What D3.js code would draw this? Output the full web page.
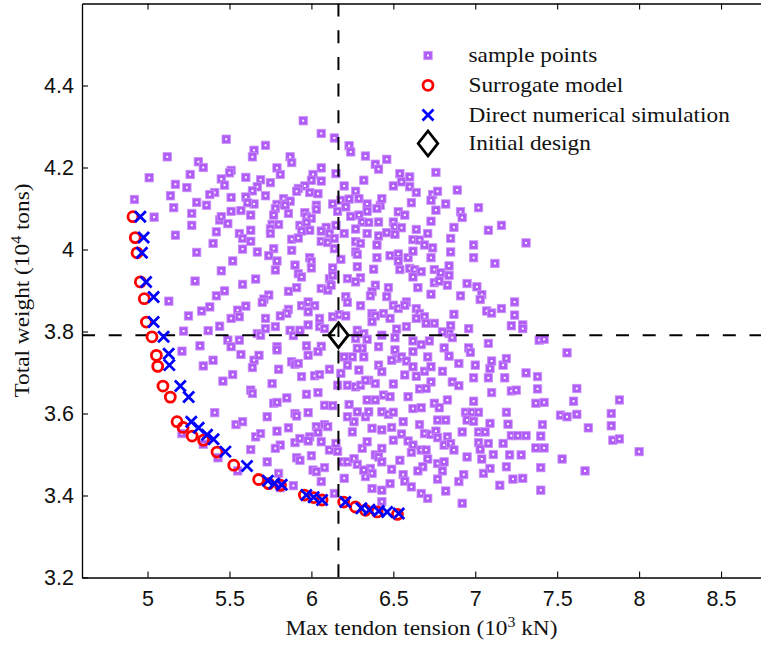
<!DOCTYPE html>
<html>
<head>
<meta charset="utf-8">
<script src="https://cdn.jsdelivr.net/npm/d3@7"></script>
<style>
    body { margin: 0; background: #fff; }
</style>
</head>
<body>
<div id="chart"></div>
<script>
// sample points [tension (10^3 kN), weight (10^4 tons)]
const samplePoints = [
    [5.95,4.314],[6.06,4.283],[6.14,4.272],[5.48,4.269],[5.72,4.254],[5.65,4.242],[5.64,4.226],[5.12,4.226],[6.23,4.253],[6.24,4.238],
    [6.33,4.228],[5.87,4.226],[5.88,4.212],[5.31,4.214],[5.34,4.200],[6.39,4.208],[6.41,4.196],[5.79,4.199],[5.81,4.183],[6.06,4.199],
    [5.51,4.193],[5.50,4.187],[5.26,4.183],[6.01,4.183],[6.00,4.169],[6.06,4.167],[6.15,4.185],[5.01,4.175],[5.60,4.176],[5.45,4.172],
    [5.47,4.157],[5.69,4.170],[5.75,4.163],[5.17,4.159],[5.24,4.151],[5.67,4.153],[5.64,4.143],[5.96,4.155],[5.92,4.149],[5.91,4.142],
    [5.99,4.139],[6.04,4.136],[6.20,4.155],[6.27,4.142],[6.32,4.169],[5.41,4.139],[5.38,4.134],[5.14,4.131],[5.51,4.127],[5.60,4.128],
    [5.72,4.131],[5.83,4.124],[5.87,4.118],[5.79,4.110],[5.84,4.108],[4.92,4.122],[5.30,4.115],[5.36,4.108],[5.65,4.111],[5.61,4.114],
    [6.13,4.111],[6.18,4.120],[6.23,4.123],[6.29,4.124],[6.34,4.111],[6.42,4.108],[6.43,4.124],[6.03,4.108],[6.03,4.098],[5.16,4.102],
    [5.51,4.093],[5.57,4.095],[5.78,4.100],[5.77,4.084],[5.86,4.088],[5.96,4.090],[5.97,4.080],[6.00,4.076],[6.16,4.093],[6.21,4.104],
    [6.40,4.100],[6.34,4.093],[6.29,4.084],[5.04,4.079],[5.27,4.088],[5.44,4.072],[5.45,4.080],[5.63,4.084],[5.49,4.063],[5.76,4.061],
    [5.80,4.061],[5.93,4.059],[5.97,4.066],[5.99,4.047],[5.94,4.045],[6.09,4.054],[6.15,4.059],[6.24,4.081],[6.31,4.067],[6.35,4.066],
    [6.41,4.067],[5.27,4.059],[5.75,4.050],[5.75,4.039],[5.42,4.043],[5.56,4.039],[5.63,4.047],[5.58,4.027],[5.63,4.020],[6.06,4.045],
    [6.11,4.039],[6.20,4.039],[6.27,4.050],[6.34,4.039],[6.41,4.033],[5.17,4.035],[5.88,4.025],[5.92,4.028],[5.88,3.998],[6.06,4.020],
    [6.10,4.017],[6.14,4.027],[6.27,4.019],[6.30,4.015],[6.40,4.011],[5.40,4.015],[5.30,3.993],[5.58,4.001],[5.67,3.994],[5.77,4.002],
    [5.74,3.985],[5.79,3.972],[5.78,3.950],[5.99,3.980],[6.00,3.970],[6.00,3.955],[6.14,4.002],[6.18,3.976],[6.13,3.955],[6.27,3.994],
    [6.28,3.988],[6.40,3.980],[5.52,3.972],[5.45,3.948],[5.90,3.962],[5.92,3.941],[5.94,3.933],[6.28,3.958],[6.38,3.952],[6.22,3.929],
    [6.30,3.931],[6.27,3.921],[6.11,3.929],[6.13,3.937],[5.29,3.923],[5.58,3.915],[5.66,3.928],[5.86,3.898],[5.91,3.907],[6.06,3.905],
    [6.10,3.901],[6.12,3.913],[6.21,3.885],[6.22,3.871],[6.39,3.913],[6.37,3.897],[6.36,3.887],[5.47,3.899],[5.42,3.887],[5.74,3.889],
    [5.71,3.879],[5.70,3.871],[5.13,3.874],[5.38,3.860],[5.33,3.850],[5.25,3.838],[5.60,3.862],[5.55,3.852],[5.56,3.836],[5.94,3.863],
    [5.98,3.872],[6.02,3.863],[5.98,3.848],[5.86,3.854],[5.85,3.844],[5.81,3.838],[6.05,3.832],[6.13,3.836],[6.17,3.841],[6.21,3.838],
    [6.30,3.863],[6.37,3.844],[6.39,3.838],[6.44,3.844],[5.72,3.832],[5.51,3.832],
    [6.46,4.220],[6.54,4.185],[6.55,4.165],[6.60,4.177],[6.50,4.155],[6.60,4.153],[6.64,4.139],[6.76,4.188],[6.89,4.145],[6.74,4.134],
    [6.73,4.120],[6.77,4.142],[6.61,4.114],[6.82,4.111],[7.02,4.102],[6.53,4.092],[6.57,4.084],[6.76,4.096],[6.91,4.092],[6.92,4.078],
    [6.73,4.069],[6.50,4.067],[6.51,4.055],[6.55,4.053],[6.46,4.041],[6.51,4.037],[6.64,4.049],[6.71,4.039],[6.62,4.024],[6.66,4.023],
    [6.69,4.011],[6.74,4.004],[6.85,4.027],[6.87,4.054],[7.08,4.047],[7.16,4.059],[7.31,4.016],[6.99,4.011],[6.85,3.994],[6.99,3.980],
    [7.12,3.966],[6.48,3.985],[6.53,3.989],[6.53,3.972],[6.59,3.980],[6.62,3.996],[6.73,3.980],[6.54,3.951],[6.60,3.954],[6.63,3.951],
    [6.67,3.946],[6.62,3.933],[6.75,3.951],[6.79,3.943],[6.84,3.960],[6.84,3.937],[6.75,3.919],[6.78,3.923],[6.83,3.913],[6.95,3.917],
    [7.01,3.909],[7.04,3.890],[7.03,3.878],[6.47,3.907],[6.46,3.885],[6.65,3.907],[6.73,3.891],[6.91,3.887],[6.58,3.872],[6.50,3.864],
    [6.53,3.856],[6.57,3.864],[6.64,3.856],[6.66,3.844],[6.69,3.836],[6.87,3.842],[7.07,3.850],[7.10,3.845],[7.16,3.856],[7.24,3.872],
    [7.24,3.840],[6.48,3.832],[6.64,3.832],
    [5.22,3.801],[5.37,3.802],[5.44,3.813],[5.49,3.779],[5.51,3.763],[5.56,3.779],[5.67,3.795],[5.69,3.791],[5.72,3.807],[5.78,3.812],
    [5.87,3.803],[5.89,3.790],[5.93,3.803],[5.98,3.816],[6.05,3.812],[6.08,3.807],[5.97,3.765],[6.06,3.764],[5.98,3.742],[6.04,3.751],
    [6.28,3.803],[6.27,3.783],[6.32,3.795],[6.37,3.824],[6.43,3.791],[6.34,3.781],[6.41,3.763],[6.31,3.759],[6.28,3.759],[6.32,3.738],
    [6.25,3.738],[6.20,3.738],[6.22,3.718],[6.29,3.706],[6.35,3.681],[6.39,3.673],[6.41,3.718],[6.43,3.702],[6.44,3.645],[6.34,3.633],
    [6.39,3.633],[6.43,3.604],[5.32,3.765],[5.40,3.730],[5.34,3.716],[5.21,3.752],[5.57,3.744],[5.65,3.730],[5.68,3.742],[5.64,3.712],
    [5.79,3.763],[5.79,3.755],[5.80,3.708],[5.88,3.726],[5.90,3.720],[5.92,3.722],[5.94,3.690],[6.02,3.692],[6.05,3.695],[6.11,3.708],
    [6.18,3.698],[5.46,3.679],[5.52,3.695],[5.76,3.673],[5.63,3.657],[5.64,3.649],[5.85,3.638],[5.77,3.625],[5.79,3.627],[5.97,3.647],
    [6.04,3.651],[6.08,3.620],[6.13,3.619],[6.22,3.669],[6.27,3.665],[6.30,3.669],[6.33,3.681],[5.41,3.602],[5.54,3.573],[5.58,3.580],
    [5.73,3.592],[5.90,3.600],[5.91,3.594],[5.98,3.602],[5.79,3.557],[5.86,3.565],[6.03,3.568],[6.08,3.573],[6.10,3.568],[6.04,3.554],
    [5.66,3.543],[5.69,3.551],[5.81,3.523],[5.78,3.515],[5.90,3.529],[5.93,3.539],[5.99,3.543],[5.98,3.533],[6.06,3.531],[6.11,3.511],
    [6.16,3.508],[5.63,3.512],[5.73,3.482],[5.91,3.492],[5.93,3.486],[6.00,3.497],[6.15,3.527],[6.19,3.482],[6.22,3.482],[6.26,3.490],
    [6.28,3.476],[6.31,3.515],[6.34,3.531],[6.39,3.499],[6.43,3.515],[6.41,3.494],[6.43,3.482],[6.36,3.466],[6.37,3.454],[6.33,3.446],
    [6.32,3.462],[6.01,3.462],[6.03,3.458],[6.08,3.468],[6.06,3.434],[5.80,3.454],[5.89,3.424],[6.14,3.405],[6.20,3.442],[6.37,3.417],
    [6.43,3.413],[6.25,3.555],[6.26,3.580],[6.22,3.592],[6.33,3.592],[6.37,3.564],[6.43,3.560],[6.16,3.669],[6.23,3.622],[6.28,3.604],
    [6.35,3.604],[5.21,3.551],[5.34,3.525],[5.43,3.492],[5.55,3.460],[5.81,3.419],
    [6.58,3.812],[6.75,3.820],[6.70,3.820],[6.85,3.814],[6.84,3.795],[6.80,3.799],[6.86,3.785],[6.96,3.807],[6.52,3.806],[6.51,3.785],
    [6.62,3.777],[6.67,3.768],[6.72,3.777],[6.81,3.760],[6.84,3.740],[6.90,3.722],[6.96,3.760],[6.97,3.749],[7.08,3.771],[7.22,3.814],
    [7.29,3.816],[7.29,3.807],[7.39,3.779],[7.42,3.781],[7.56,3.748],[6.62,3.751],[6.51,3.755],[6.52,3.734],[6.49,3.730],[6.55,3.738],
    [6.58,3.728],[6.71,3.738],[6.62,3.714],[6.69,3.703],[6.73,3.714],[6.80,3.703],[6.86,3.677],[6.90,3.668],[6.73,3.677],[6.66,3.660],
    [6.70,3.661],[6.57,3.694],[6.64,3.691],[6.50,3.672],[7.00,3.718],[6.99,3.687],[7.08,3.687],[7.09,3.710],[7.10,3.728],[7.17,3.718],
    [7.19,3.734],[7.18,3.687],[7.31,3.699],[7.38,3.690],[7.10,3.651],[7.22,3.655],[7.25,3.657],[7.38,3.660],[7.62,3.661],[7.60,3.630],
    [7.88,3.633],[7.37,3.625],[7.42,3.627],[7.52,3.596],[7.56,3.592],[7.62,3.598],[7.83,3.600],[6.48,3.641],[6.59,3.641],[6.99,3.630],
    [6.75,3.625],[6.78,3.614],[6.83,3.633],[6.62,3.612],[6.67,3.614],[6.94,3.603],[6.98,3.603],[7.02,3.603],[6.95,3.584],[6.99,3.581],
    [7.19,3.603],[7.20,3.574],[7.41,3.573],[7.09,3.576],[7.69,3.565],[7.83,3.570],[6.47,3.598],[6.50,3.603],[6.56,3.580],[6.49,3.566],
    [6.66,3.573],[6.55,3.550],[6.69,3.551],[6.73,3.549],[6.76,3.557],[6.77,3.541],[6.83,3.543],[6.77,3.584],[6.82,3.584],[6.92,3.555],
    [7.02,3.555],[7.06,3.555],[7.22,3.546],[7.26,3.546],[7.31,3.546],[7.40,3.545],[7.84,3.535],[7.88,3.538],[8.00,3.507],[6.50,3.535],
    [6.59,3.533],[6.62,3.523],[6.67,3.511],[6.70,3.511],[6.81,3.523],[6.85,3.527],[6.87,3.511],[7.02,3.529],[7.03,3.513],[7.08,3.527],
    [7.17,3.527],[7.37,3.516],[7.42,3.516],[7.53,3.489],[7.67,3.460],[6.49,3.464],[6.54,3.486],[6.61,3.505],[6.71,3.489],[6.77,3.478],
    [6.81,3.482],[6.68,3.470],[6.65,3.460],[6.80,3.460],[6.95,3.494],[7.04,3.489],[7.11,3.500],[7.09,3.466],[7.21,3.499],[7.28,3.499],
    [7.19,3.470],[7.40,3.468],[6.48,3.429],[6.56,3.451],[6.57,3.435],[6.61,3.421],[6.77,3.440],[6.82,3.411],[6.90,3.434],[6.93,3.451],
    [7.05,3.454],[7.15,3.425],[7.23,3.440],[7.29,3.442],[7.40,3.413],[6.67,3.405],[6.71,3.393],[6.92,3.381],[6.43,3.385]
];

// Pareto front from the surrogate model
const surrogateX = [4.911,4.925,4.936,4.956,4.980,4.993,5.027,5.054,5.062,5.094,5.139,5.180,5.217,5.272,5.342,5.424,5.526,5.678,5.739,5.811,5.957,6.014,6.065,6.197,6.269,6.330,6.401,6.525];
const surrogateY = [4.080,4.029,3.992,3.921,3.880,3.823,3.787,3.742,3.715,3.667,3.640,3.580,3.566,3.545,3.535,3.506,3.474,3.439,3.429,3.425,3.401,3.395,3.389,3.384,3.372,3.364,3.360,3.354];

// same designs checked by direct numerical simulation
const dnsX = [4.956,4.976,4.966,4.991,5.037,5.037,5.098,5.129,5.133,5.200,5.251,5.267,5.312,5.363,5.403,5.475,5.607,5.734,5.774,5.819,5.969,6.014,6.065,6.207,6.305,6.354,6.411,6.462,6.533];
const dnsY = [4.080,4.029,3.992,3.921,3.884,3.823,3.787,3.746,3.718,3.667,3.640,3.580,3.565,3.548,3.537,3.507,3.472,3.436,3.429,3.426,3.401,3.396,3.389,3.384,3.369,3.365,3.362,3.360,3.356];

const initialDesign = [6.165, 3.791];

const xTicks = [5, 5.5, 6, 6.5, 7, 7.5, 8, 8.5];
const yTicks = [3.2, 3.4, 3.6, 3.8, 4, 4.2, 4.4];
const legendLabels = ["sample points", "Surrogate model", "Direct numerical simulation", "Initial design"];

const W = 761, H = 646;
const plot = { left: 82, top: 3.5, right: 762, bottom: 577.5 };
const purple = "#b15cf6", red = "#ff0000", blue = "#0000ff";
const serif = "'Liberation Serif', 'Times New Roman', serif";
const stretch = 1.11;

let svg = d3.select("#chart").append("svg")
    .attr("width", W)
    .attr("height", H);

let x = d3.scaleLinear().domain([4.6, 8.75]).range([plot.left, plot.right]);
let y = d3.scaleLinear().domain([3.2, 4.6]).range([plot.bottom, plot.top]);

// markers
function drawSquare(g, cx, cy) {
    g.append("rect")
        .attr("x", cx - 4.2).attr("y", cy - 4.2)
        .attr("width", 8.4).attr("height", 8.4)
        .attr("fill", purple)
        .attr("stroke", "#c992f8")
        .attr("stroke-width", 0.8);
    g.append("rect")
        .attr("x", cx - 1).attr("y", cy - 1)
        .attr("width", 2).attr("height", 2)
        .attr("fill", "#fff");
}
function drawCircle(g, cx, cy) {
    g.append("circle")
        .attr("cx", cx).attr("cy", cy).attr("r", 5)
        .attr("fill", "none")
        .attr("stroke", red)
        .attr("stroke-width", 2.8);
}
function drawCross(g, cx, cy) {
    let s = 5.5;
    g.append("path")
        .attr("d", `M${cx - s},${cy - s}L${cx + s},${cy + s}M${cx - s},${cy + s}L${cx + s},${cy - s}`)
        .attr("stroke", blue)
        .attr("stroke-width", 2.8)
        .attr("fill", "none");
}
function drawDiamond(g, cx, cy) {
    g.append("path")
        .attr("d", `M${cx},${cy - 12.5}L${cx + 9.8},${cy}L${cx},${cy + 12.5}L${cx - 9.8},${cy}Z`)
        .attr("fill", "none")
        .attr("stroke", "#000")
        .attr("stroke-width", 2.8);
}

svg.append("defs").append("clipPath").attr("id", "clip")
    .append("rect")
    .attr("x", plot.left).attr("y", plot.top)
    .attr("width", plot.right - plot.left).attr("height", plot.bottom - plot.top);

let marks = svg.append("g").attr("clip-path", "url(#clip)");

let sampleG = marks.append("g");
samplePoints.forEach(d => drawSquare(sampleG, x(d[0]), y(d[1])));

// dashed reference lines through the initial design
marks.append("line")
    .attr("x1", x(initialDesign[0])).attr("x2", x(initialDesign[0]))
    .attr("y1", plot.top).attr("y2", plot.bottom)
    .attr("stroke", "#000").attr("stroke-width", 2)
    .attr("stroke-dasharray", "13,13.7");
marks.append("line")
    .attr("x1", plot.left).attr("x2", plot.right)
    .attr("y1", y(initialDesign[1])).attr("y2", y(initialDesign[1]))
    .attr("stroke", "#000").attr("stroke-width", 2)
    .attr("stroke-dasharray", "13,13.7");

let surG = marks.append("g");
surrogateX.forEach((v, i) => drawCircle(surG, x(v), y(surrogateY[i])));
let dnsG = marks.append("g");
dnsX.forEach((v, i) => drawCross(dnsG, x(v), y(dnsY[i])));
drawDiamond(marks, x(initialDesign[0]), y(initialDesign[1]));

// axes
let tickFont = "'Liberation Sans', Arial, Helvetica, sans-serif";

let xAxis = svg.append("g")
    .attr("transform", `translate(0,${plot.bottom})`)
    .call(d3.axisBottom(x).tickValues(xTicks).tickSizeInner(-6).tickSizeOuter(0).tickPadding(13)
        .tickFormat(d3.format("")));
let xTop = svg.append("g")
    .attr("transform", `translate(0,${plot.top})`)
    .call(d3.axisTop(x).tickValues(xTicks).tickSizeInner(-6).tickSizeOuter(0).tickFormat(""));
let yAxis = svg.append("g")
    .attr("transform", `translate(${plot.left},0)`)
    .call(d3.axisLeft(y).tickValues(yTicks).tickSizeInner(-6).tickSizeOuter(0).tickPadding(8)
        .tickFormat(d3.format("")));

[xAxis, xTop, yAxis].forEach(a => {
    a.select(".domain").attr("stroke", "#000").attr("stroke-width", 1.3);
    a.selectAll(".tick line").attr("stroke", "#000").attr("stroke-width", 1.1);
    a.selectAll(".tick text")
        .attr("fill", "#111")
        .style("font-family", tickFont)
        .style("font-size", "21.5px");
});

// serif labels with superscripts
function serifLabel(transform, parts, size) {
    let g = svg.append("g").attr("transform", transform);
    let t = g.append("text")
        .attr("text-anchor", "middle")
        .style("font-family", serif)
        .style("font-size", size + "px")
        .attr("fill", "#111");
    parts.forEach(p => {
        if (p.sup) {
            t.append("tspan").attr("dy", -8).style("font-size", (size * 0.68) + "px").text(p.t);
        } else {
            t.append("tspan").attr("dy", p.after ? 8 : 0).text(p.t);
        }
    });
    return g;
}

serifLabel(`translate(${(plot.left + W) / 2},635) scale(${stretch},1)`,
    [{ t: "Max tendon tension (10" }, { t: "3", sup: true }, { t: " kN)", after: true }], 21);

serifLabel(`translate(29,${(plot.top + plot.bottom) / 2}) rotate(-90) scale(${stretch},1)`,
    [{ t: "Total weight (10" }, { t: "4", sup: true }, { t: " tons)", after: true }], 21);

// legend
let legendRows = [55.5, 85.3, 115, 143.5];
let legend = svg.append("g");
let drawers = [drawSquare, drawCircle, drawCross, drawDiamond];
legendLabels.forEach((label, i) => {
    drawers[i](legend, 428, legendRows[i]);
    legend.append("g")
        .attr("transform", `translate(468.5,${legendRows[i] + 6.8}) scale(${stretch},1)`)
        .append("text")
        .style("font-family", serif)
        .style("font-size", "21px")
        .attr("fill", "#111")
        .text(label);
});
</script>
</body>
</html>
